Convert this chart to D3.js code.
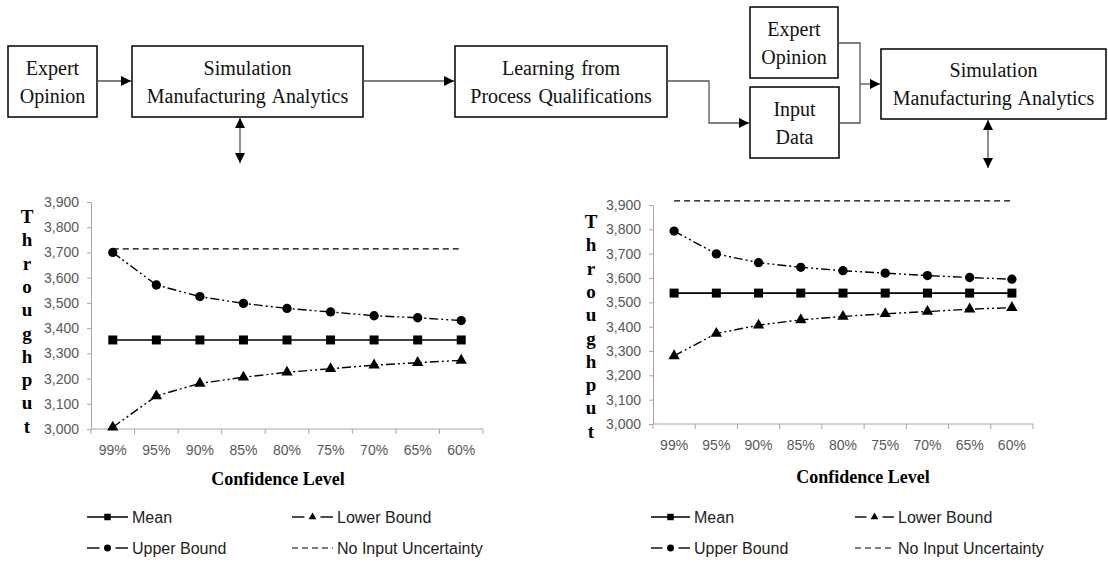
<!DOCTYPE html>
<html>
<head>
<meta charset="utf-8">
<script src="https://cdn.jsdelivr.net/npm/d3@7"></script>
<style>
  body { margin: 0; background: #fff; }
  svg { display: block; }
</style>
</head>
<body>
<svg id="chart" width="1108" height="565"></svg>
<script>
'use strict';

// Data
let categories = ['99%', '95%', '90%', '85%', '80%', '75%', '70%', '65%', '60%'];
let yTicks = [3000, 3100, 3200, 3300, 3400, 3500, 3600, 3700, 3800, 3900];

let leftMean = [3353, 3353, 3353, 3353, 3353, 3353, 3353, 3353, 3353];
let leftUpper = [3700, 3571, 3525, 3498, 3478, 3464, 3449, 3441, 3430];
let leftLower = [3007, 3131, 3181, 3205, 3225, 3239, 3253, 3263, 3272];
let leftNoInput = [3714, 3714, 3714, 3714, 3714, 3714, 3714, 3714, 3714];

let rightMean = [3538, 3538, 3538, 3538, 3538, 3538, 3538, 3538, 3538];
let rightUpper = [3793, 3699, 3663, 3644, 3630, 3620, 3610, 3602, 3595];
let rightLower = [3280, 3372, 3406, 3428, 3442, 3453, 3462, 3472, 3478];
let rightNoInput = [3917, 3917, 3917, 3917, 3917, 3917, 3917, 3917, 3917];

let legendNames = ['Mean', 'Lower Bound', 'Upper Bound', 'No Input Uncertainty'];
let legendKeys = ['mean', 'lower', 'upper', 'noInput'];

let yTitle = 'Throughput';
let xTitle = 'Confidence Level';

// Diagram text
let boxLabels = [
  ['Expert', 'Opinion'],
  ['Simulation', 'Manufacturing Analytics'],
  ['Learning from', 'Process Qualifications'],
  ['Expert', 'Opinion'],
  ['Input', 'Data'],
  ['Simulation', 'Manufacturing Analytics'],
];

// Formatting
let serif = '"Liberation Serif", "Times New Roman", serif';
let sans = '"Liberation Sans", Arial, sans-serif';
let axisColor = '#a6a6a6';
let tickColor = '#595959';
let linkColor = '#555';

let boxLayout = [
  {x: 8, y: 46, w: 89, h: 71},
  {x: 132, y: 46, w: 231, h: 71},
  {x: 455, y: 46, w: 212, h: 71},
  {x: 750, y: 7, w: 88, h: 71},
  {x: 750, y: 87, w: 89, h: 71},
  {x: 881, y: 49, w: 225, h: 70},
];

let links = [
  {pts: [[97, 81], [131, 81]], end: true},
  {pts: [[363, 81], [454, 81]], end: true},
  {pts: [[667, 81], [709, 81], [709, 123], [749, 123]], end: true},
  {pts: [[839, 123], [860, 123], [860, 43], [838, 43]]},
  {pts: [[860, 84], [880, 84]], end: true},
  {pts: [[240, 118], [240, 163]], end: true, start: true},
  {pts: [[988, 120], [988, 168]], end: true, start: true},
];

let seriesStyle = {
  mean: {dash: null, width: 1.6, symbol: d3.symbolSquare, size: 81, legendSize: 42},
  upper: {dash: '9,3,2,3,2,3', width: 1.4, symbol: d3.symbolCircle, size: 68, legendSize: 38},
  lower: {dash: '9,3,2,3,2,3', width: 1.4, symbol: d3.symbolTriangle, size: 56, legendSize: 26},
  noInput: {dash: '6,4', width: 1.3, symbol: null},
};

let panels = [
  {
    left: 91, right: 483, top: 202, bottom: 429,
    letterX: 27, letterY: 217, titleX: 278, titleY: 479,
    legendCols: [87, 292], legendW: 41, legendRows: [517, 548],
    series: {mean: leftMean, upper: leftUpper, lower: leftLower, noInput: leftNoInput},
  },
  {
    left: 653, right: 1033, top: 205, bottom: 424,
    letterX: 591, letterY: 222, titleX: 863, titleY: 477,
    legendCols: [651, 855], legendW: 39, legendRows: [517, 548],
    series: {mean: rightMean, upper: rightUpper, lower: rightLower, noInput: rightNoInput},
  },
];

let svg = d3.select('#chart');
svg.append('rect').attr('width', 1108).attr('height', 565).attr('fill', '#fff');

// Arrow heads
let defs = svg.append('defs');
defs.append('marker')
  .attr('id', 'head')
  .attr('viewBox', '0 0 10 10')
  .attr('refX', 10).attr('refY', 5)
  .attr('markerWidth', 10).attr('markerHeight', 10)
  .attr('markerUnits', 'userSpaceOnUse')
  .attr('orient', 'auto-start-reverse')
  .append('path')
  .attr('d', 'M0,0L10,5L0,10Z')
  .attr('fill', '#000');

function drawDiagram(){
  let boxes = svg.append('g').selectAll('g')
    .data(boxLayout)
    .enter()
    .append('g');

  boxes.append('rect')
    .attr('x', (d) => d.x)
    .attr('y', (d) => d.y)
    .attr('width', (d) => d.w)
    .attr('height', (d) => d.h)
    .attr('fill', '#fff')
    .attr('stroke', '#000')
    .attr('stroke-width', 1.5);

  boxes.each(function(d, i){
    let cx = d.x + d.w / 2;
    let cy = d.y + d.h / 2;
    d3.select(this).selectAll('text')
      .data(boxLabels[i])
      .enter()
      .append('text')
      .attr('x', cx)
      .attr('y', (t, j) => cy + (j === 0 ? -7 : 21))
      .attr('text-anchor', 'middle')
      .style('font-family', serif)
      .style('font-size', '20px')
      .style('word-spacing', '2px')
      .attr('fill', '#111')
      .text((t) => t);
  });

  let line = d3.line();
  svg.append('g').selectAll('path')
    .data(links)
    .enter()
    .append('path')
    .attr('d', (d) => line(d.pts))
    .attr('fill', 'none')
    .attr('stroke', linkColor)
    .attr('stroke-width', 1.3)
    .attr('marker-end', (d) => d.end ? 'url(#head)' : null)
    .attr('marker-start', (d) => d.start ? 'url(#head)' : null);
}

function drawPanel(panel){
  let x = d3.scaleBand()
    .domain(categories)
    .range([panel.left, panel.right]);
  let y = d3.scaleLinear()
    .domain([yTicks[0], yTicks[yTicks.length - 1]])
    .range([panel.bottom, panel.top]);
  let cx = (c) => x(c) + x.bandwidth() / 2;

  let g = svg.append('g');

  // Y axis
  let yAxis = d3.axisLeft(y)
    .tickValues(yTicks)
    .tickFormat(d3.format(','))
    .tickSize(4)
    .tickSizeOuter(0)
    .tickPadding(8);
  let yg = g.append('g')
    .attr('transform', `translate(${panel.left},0)`)
    .call(yAxis);
  yg.attr('font-size', null).attr('font-family', null);
  yg.select('.domain').attr('stroke', axisColor);
  yg.selectAll('.tick line').attr('stroke', axisColor);
  yg.selectAll('.tick text')
    .attr('fill', tickColor)
    .style('font-family', sans)
    .style('font-size', '14px');

  // X axis, ticks between categories
  g.append('line')
    .attr('x1', panel.left).attr('x2', panel.right)
    .attr('y1', y(yTicks[0])).attr('y2', y(yTicks[0]))
    .attr('stroke', axisColor);
  g.selectAll('.xtick')
    .data(categories.map((c) => x(c)).concat([panel.right]))
    .enter()
    .append('line')
    .attr('class', 'xtick')
    .attr('x1', (d) => d).attr('x2', (d) => d)
    .attr('y1', y(yTicks[0])).attr('y2', y(yTicks[0]) + 5)
    .attr('stroke', axisColor);
  g.selectAll('.xlabel')
    .data(categories)
    .enter()
    .append('text')
    .attr('class', 'xlabel')
    .attr('x', cx)
    .attr('y', y(yTicks[0]) + 26)
    .attr('text-anchor', 'middle')
    .attr('fill', tickColor)
    .style('font-family', sans)
    .style('font-size', '14px')
    .text((d) => d);

  // Axis titles
  g.selectAll('.yletter')
    .data(yTitle.split(''))
    .enter()
    .append('text')
    .attr('class', 'yletter')
    .attr('x', panel.letterX)
    .attr('y', (d, i) => panel.letterY + i * 23.3 + 6)
    .attr('text-anchor', 'middle')
    .style('font-family', serif)
    .style('font-size', '19px')
    .style('font-weight', 'bold')
    .text((d) => d);

  g.append('text')
    .attr('x', panel.titleX)
    .attr('y', panel.titleY + 6)
    .attr('text-anchor', 'middle')
    .style('font-family', serif)
    .style('font-size', '18px')
    .style('font-weight', 'bold')
    .text(xTitle);

  // Series
  let order = ['noInput', 'lower', 'upper', 'mean'];
  order.forEach((key) => {
    let style = seriesStyle[key];
    let values = panel.series[key];
    let points = categories.map((c, i) => ({c: c, v: values[i]}));
    let line = d3.line().x((d) => cx(d.c)).y((d) => y(d.v));

    g.append('path')
      .datum(points)
      .attr('d', line)
      .attr('fill', 'none')
      .attr('stroke', '#000')
      .attr('stroke-width', style.width)
      .attr('stroke-dasharray', style.dash);

    if(style.symbol){
      g.selectAll(`.pt-${key}`)
        .data(points)
        .enter()
        .append('path')
        .attr('class', `pt-${key}`)
        .attr('transform', (d) => `translate(${cx(d.c)},${y(d.v)})`)
        .attr('d', d3.symbol().type(style.symbol).size(style.size))
        .attr('fill', '#000');
    }
  });

  // Legend
  legendKeys.forEach((key, i) => {
    let style = seriesStyle[key];
    let x0 = panel.legendCols[i % 2];
    let x1 = x0 + panel.legendW;
    let ly = panel.legendRows[Math.floor(i / 2)];
    let mid = (x0 + x1) / 2;
    let lg = g.append('g');

    if(key === 'mean'){
      lg.append('line')
        .attr('x1', x0).attr('x2', x1).attr('y1', ly).attr('y2', ly)
        .attr('stroke', '#000').attr('stroke-width', 1.6);
    } else if(key === 'noInput'){
      lg.append('line')
        .attr('x1', x0).attr('x2', x1).attr('y1', ly).attr('y2', ly)
        .attr('stroke', '#000').attr('stroke-width', 1.2)
        .attr('stroke-dasharray', '6,4');
    } else {
      [[x0, mid - 8], [mid + 8, x1]].forEach((seg) => {
        lg.append('line')
          .attr('x1', seg[0]).attr('x2', seg[1]).attr('y1', ly).attr('y2', ly)
          .attr('stroke', '#000').attr('stroke-width', 1.4);
      });
    }
    if(style.symbol){
      lg.append('path')
        .attr('transform', `translate(${mid},${ly})`)
        .attr('d', d3.symbol().type(style.symbol).size(style.legendSize))
        .attr('fill', '#000');
    }
    lg.append('text')
      .attr('x', x1 + 4)
      .attr('y', ly + 6)
      .attr('fill', '#222')
      .style('font-family', sans)
      .style('font-size', '16px')
      .text(legendNames[i]);
  });
}

drawDiagram();
panels.forEach(drawPanel);
</script>
</body>
</html>
